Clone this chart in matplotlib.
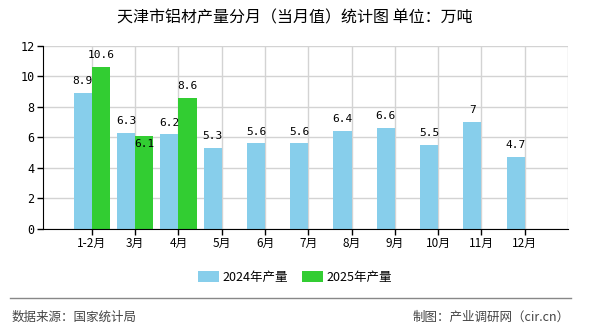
import matplotlib
matplotlib.use("Agg")
import matplotlib.pyplot as plt
import numpy as np

plt.rcParams['font.family'] = ['Noto Sans CJK SC', 'DejaVu Sans']

months = ["1-2月", "3月", "4月", "5月", "6月", "7月", "8月", "9月", "10月", "11月", "12月"]
prod_2024 = [8.9, 6.3, 6.2, 5.3, 5.6, 5.6, 6.4, 6.6, 5.5, 7, 4.7]
prod_2025 = [10.6, 6.1, 8.6]
label_2024 = ["8.9", "6.3", "6.2", "5.3", "5.6", "5.6", "6.4", "6.6", "5.5", "7", "4.7"]
label_2025 = ["10.6", "6.1", "8.6"]

c24 = "#87CEEB"
c25 = "#32CD32"

fig = plt.figure(figsize=(5.9, 3.3), dpi=100)
ax = fig.add_axes([0.0729, 0.306, 0.8898, 0.5555])

pos = np.arange(len(months))
w = 0.42
b1 = ax.bar(pos - w/2, prod_2024, w, color=c24, label="2024年产量", zorder=3)
b2 = ax.bar(pos[:len(prod_2025)] + w/2, prod_2025, w, color=c25, label="2025年产量", zorder=3)

mono = ['DejaVu Sans Mono']
for x, v, t in zip(pos - w/2, prod_2024, label_2024):
    ax.annotate(t, (x, v), xytext=(0, 8.5), textcoords="offset points",
                ha="center", va="center", fontsize=8, family=mono, zorder=4)
for i, (x, v, t) in enumerate(zip(pos[:len(prod_2025)] + w/2, prod_2025, label_2025)):
    off = -6 if i == 1 else 8.5
    ax.annotate(t, (x, v), xytext=(0, off), textcoords="offset points",
                ha="center", va="center", fontsize=8, family=mono, zorder=4)

ax.set_xlim(-1.13, 11)
ax.set_ylim(0, 12)
ax.set_yticks(np.arange(0, 13, 2))
ax.set_xticks(pos)
ax.set_xticklabels(months, fontsize=8.5)
ax.tick_params(axis='y', labelsize=8.5, length=4, width=1, pad=2)
ax.tick_params(axis='x', length=4, width=1, pad=2)
for lbl in ax.get_yticklabels():
    lbl.set_family(mono)

ax.grid(True, color="#d3d3d3", linewidth=1, zorder=0)
ax.axvline(11, color="#d3d3d3", linewidth=1, zorder=0)
ax.spines['top'].set_visible(False)
ax.spines['right'].set_visible(False)
ax.spines['left'].set_color("black")
ax.spines['bottom'].set_color("black")
ax.spines['left'].set_zorder(5)
ax.spines['bottom'].set_zorder(5)

fig.text(0.5, 0.945, "天津市铝材产量分月（当月值）统计图 单位：万吨", ha="center", va="center", fontsize=11.5)

fig.legend(handles=[b1, b2], loc="center", bbox_to_anchor=(0.5, 0.16), ncol=2,
           frameon=False, fontsize=9, handlelength=1.7, handleheight=0.9,
           columnspacing=1.1, handletextpad=0.3)

fig.add_artist(plt.Line2D([0.017, 0.967], [0.097, 0.097], color="#888888", linewidth=1))
fig.text(0.02, 0.04, "数据来源：国家统计局", ha="left", va="center", fontsize=9, color="#444444")
fig.text(0.965, 0.04, "制图：产业调研网（cir.cn）", ha="right", va="center", fontsize=9, color="#444444")

fig.savefig("out.png", dpi=100)
